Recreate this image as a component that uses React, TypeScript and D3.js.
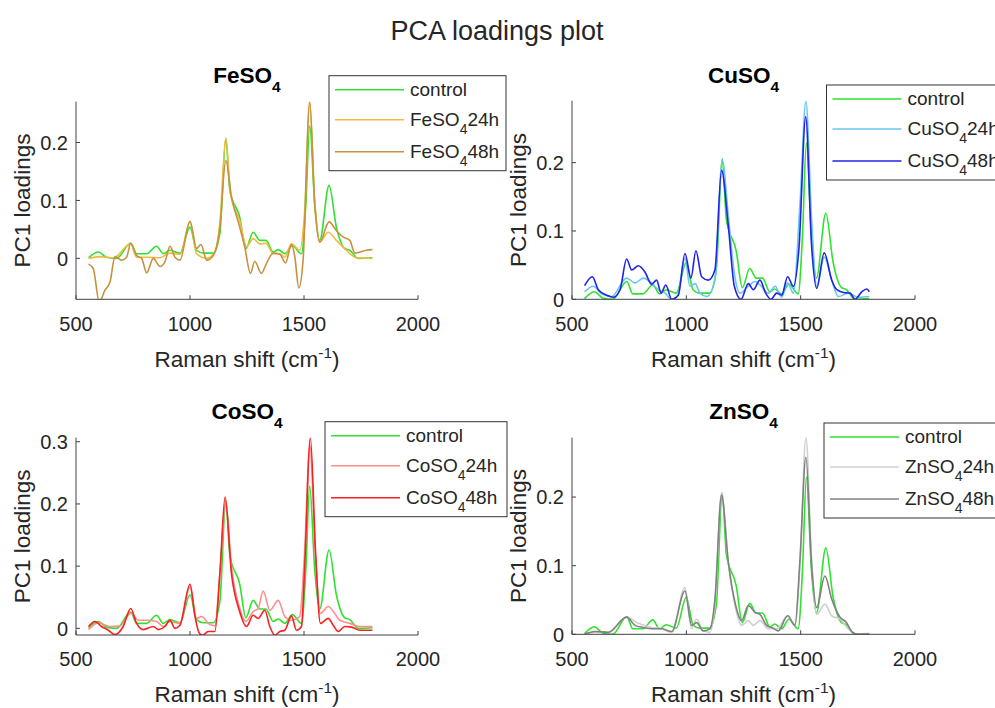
import React from "react";
import * as d3 from "d3";

type Pt = [number, number];

const FONT = "'Liberation Sans', Arial, Helvetica, sans-serif";

const xTicks = [500, 1000, 1500, 2000];
const yTicksFe = [0, 0.1, 0.2];
const yTicksCu = [0, 0.1, 0.2];
const yTicksCo = [0, 0.1, 0.2, 0.3];
const yTicksZn = [0, 0.1, 0.2];

const controlData: Pt[] = [
  [555, 0.001], [598, 0.011], [634, 0.002], [678, 0], [740, 0.026], [766, 0.008], [810, 0.008],
  [853, 0.021], [883, 0.008], [912, 0.014], [956, 0.009], [1000, 0.054], [1029, 0.014], [1058, 0.009],
  [1102, 0.009], [1131, 0.043], [1157, 0.206], [1175, 0.117], [1218, 0.071], [1245, 0.017],
  [1277, 0.045], [1306, 0.031], [1333, 0.031], [1365, 0.011], [1387, 0.015], [1416, 0.008],
  [1449, 0.022], [1489, 0.008], [1508, 0.094], [1525, 0.229], [1547, 0.094], [1569, 0.031],
  [1610, 0.126], [1642, 0.054], [1679, 0.017], [1701, 0.014], [1737, 0], [1800, 0.001],
];

const fe24Data: Pt[] = [
  [555, 0], [605, 0.003], [664, 0.001], [740, 0.025], [766, 0.002], [824, 0.002], [868, 0.001],
  [912, 0.009], [956, 0.007], [1000, 0.063], [1029, 0.008], [1073, 0], [1109, 0.011], [1131, 0.06],
  [1157, 0.208], [1178, 0.111], [1218, 0.065], [1248, 0.02], [1277, 0.034], [1306, 0.025],
  [1333, 0.026], [1365, 0.008], [1394, 0.008], [1416, 0.002], [1445, 0.025], [1481, 0.014],
  [1503, 0.083], [1525, 0.27], [1547, 0.1], [1569, 0.028], [1606, 0.045], [1642, 0.031],
  [1686, 0.014], [1730, 0.001], [1800, 0],
];

const fe48Data: Pt[] = [
  [555, -0.01], [576, -0.018], [602, -0.075], [627, -0.055], [649, -0.041], [671, 0.003],
  [700, -0.003], [722, 0.002], [740, 0.026], [766, 0.005], [788, 0], [810, -0.025], [839, 0],
  [868, -0.014], [890, -0.006], [912, 0.021], [934, 0.002], [956, -0.003], [1000, 0.064],
  [1029, 0.017], [1048, 0.024], [1073, -0.003], [1102, 0.005], [1131, 0.054], [1157, 0.169],
  [1182, 0.106], [1218, 0.054], [1240, 0.02], [1265, -0.026], [1284, -0.005], [1313, -0.026],
  [1335, -0.009], [1365, 0.009], [1394, 0.007], [1419, -0.008], [1445, 0.024], [1460, 0.002],
  [1477, -0.051], [1496, -0.003], [1525, 0.271], [1547, 0.094], [1569, 0.028], [1610, 0.063],
  [1642, 0.048], [1671, 0.037], [1701, 0.031], [1723, 0.009], [1745, 0.011], [1774, 0.014],
  [1800, 0.015],
];

const cu24Data: Pt[] = [
  [555, 0.011], [593, 0.019], [630, 0.008], [673, 0.004], [739, 0.031], [776, 0.024], [812, 0.031],
  [848, 0.024], [878, 0.014], [907, 0.009], [936, 0], [962, 0.006], [994, 0.06], [1016, 0.019],
  [1038, 0.023], [1060, 0.009], [1089, 0.004], [1125, 0.028], [1157, 0.204], [1184, 0.121],
  [1210, 0.038], [1235, 0.009], [1271, 0.019], [1300, 0.026], [1322, 0.021], [1359, 0.009],
  [1388, 0.019], [1417, 0.003], [1443, 0.024], [1468, 0.009], [1497, 0.14], [1523, 0.29],
  [1548, 0.116], [1570, 0.019], [1603, 0.062], [1636, 0.028], [1665, 0.004], [1708, 0.009],
  [1752, 0.003], [1800, 0.004],
];

const cu48Data: Pt[] = [
  [555, 0.02], [589, 0.033], [615, 0.014], [652, 0.006], [681, 0.003], [710, 0.014], [739, 0.059],
  [761, 0.043], [790, 0.049], [819, 0.04], [848, 0.022], [870, 0.028], [890, 0.009], [910, 0.021],
  [936, 0], [965, 0.006], [994, 0.067], [1020, 0.031], [1042, 0.071], [1067, 0.033], [1096, 0.028],
  [1125, 0.043], [1154, 0.189], [1184, 0.106], [1210, 0.019], [1239, 0], [1271, 0.023],
  [1293, 0.014], [1322, 0.028], [1347, 0.009], [1370, 0], [1395, 0.009], [1417, 0.006],
  [1443, 0.033], [1468, 0.019], [1493, 0.077], [1522, 0.267], [1548, 0.077], [1570, 0.016],
  [1603, 0.068], [1636, 0.028], [1658, 0.014], [1687, 0.01], [1716, 0.009], [1738, 0],
  [1767, 0.011], [1789, 0.015], [1800, 0.011],
];

const co24Data: Pt[] = [
  [555, -0.002], [598, 0.009], [649, 0.003], [693, 0.004], [740, 0.024], [774, 0.013], [810, 0.013],
  [853, 0.011], [883, 0.003], [912, 0.011], [956, 0.008], [1000, 0.067], [1029, 0.016],
  [1051, 0.019], [1080, 0.008], [1109, 0.004], [1131, 0.088], [1157, 0.203], [1182, 0.099],
  [1216, 0.035], [1245, 0.011], [1277, 0.027], [1299, 0.032], [1321, 0.06], [1350, 0.029],
  [1387, 0.045], [1416, 0.019], [1445, 0.013], [1481, 0.019], [1503, 0.126], [1525, 0.295],
  [1551, 0.11], [1572, 0.024], [1606, 0.035], [1635, 0.024], [1657, 0.013], [1701, 0.008],
  [1745, 0.003], [1800, 0.003],
];

const co48Data: Pt[] = [
  [555, 0.003], [583, 0.011], [612, 0.003], [642, -0.003], [671, -0.01], [707, 0.003], [740, 0.032],
  [766, 0.008], [795, -0.002], [839, 0.003], [861, -0.002], [890, 0.003], [912, 0.013], [934, 0],
  [956, 0.005], [1000, 0.071], [1022, 0.019], [1041, -0.008], [1055, -0.011], [1080, -0.005],
  [1109, -0.005], [1131, 0.088], [1154, 0.211], [1182, 0.088], [1216, 0.029], [1248, 0.003],
  [1277, 0.021], [1299, 0.016], [1328, 0.029], [1350, 0.003], [1372, -0.011], [1394, -0.005],
  [1416, -0.003], [1445, 0.02], [1467, -0.003], [1489, 0.003], [1503, 0.099], [1528, 0.306],
  [1551, 0.12], [1572, 0.008], [1606, 0.016], [1628, 0.005], [1650, -0.005], [1679, 0.003],
  [1708, 0.002], [1745, -0.003], [1800, -0.003],
];

const zn24Data: Pt[] = [
  [555, 0], [600, 0.003], [659, 0.003], [739, 0.025], [790, 0.016], [848, 0.01], [892, 0.008],
  [936, 0.003], [994, 0.068], [1023, 0.008], [1045, 0.022], [1074, 0.005], [1103, 0.003],
  [1125, 0.042], [1154, 0.206], [1184, 0.104], [1213, 0.042], [1242, 0.013], [1271, 0.02],
  [1293, 0.013], [1322, 0.02], [1359, 0.008], [1395, 0.008], [1443, 0.027], [1475, 0.013],
  [1497, 0.1], [1523, 0.287], [1548, 0.109], [1570, 0.029], [1606, 0.044], [1636, 0.027],
  [1672, 0.022], [1708, 0.008], [1752, 0], [1800, 0],
];

const zn48Data: Pt[] = [
  [555, 0], [600, 0.004], [659, 0.003], [739, 0.025], [776, 0.013], [812, 0.01], [848, 0.008],
  [892, 0.008], [936, 0.004], [994, 0.063], [1023, 0.013], [1045, 0.017], [1074, 0.005],
  [1103, 0.008], [1125, 0.051], [1154, 0.203], [1184, 0.104], [1213, 0.046], [1242, 0.02],
  [1271, 0.042], [1300, 0.032], [1322, 0.029], [1351, 0.013], [1380, 0.009], [1402, 0.005],
  [1443, 0.027], [1475, 0.013], [1497, 0.109], [1523, 0.258], [1548, 0.1], [1570, 0.039],
  [1606, 0.085], [1636, 0.051], [1672, 0.025], [1701, 0.017], [1723, 0.004], [1752, 0], [1800, 0],
];

const saltNames = ["FeSO", "CuSO", "CoSO", "ZnSO"];
const seriesSuffix = ["24h", "48h"];
const controlColor = "#2ee22e";
const feColors = ["#f2b944", "#c8913e"];
const cuColors = ["#6ac6ee", "#2222e8"];
const coColors = ["#ff8f8f", "#f82020"];
const znColors = ["#cfcfcf", "#808080"];

interface PanelCfg {
  salt: string;
  data: Pt[][];
  colors: string[];
  yDomain: [number, number];
  yTicks: number[];
  left: number;
  right: number;
  top: number;
  bottom: number;
  titleY: number;
  legend: { x: number; y: number; w: number };
}

const panels: PanelCfg[] = [
  {
    salt: saltNames[0], data: [fe24Data, fe48Data], colors: feColors, yDomain: [-0.0707, 0.2705],
    yTicks: yTicksFe, left: 76, right: 418, top: 101.7, bottom: 299.3, titleY: 82.7,
    legend: { x: 329, y: 75.7, w: 177 },
  },
  {
    salt: saltNames[1], data: [cu24Data, cu48Data], colors: cuColors, yDomain: [0, 0.2907],
    yTicks: yTicksCu, left: 572, right: 915, top: 100.7, bottom: 299.3, titleY: 82.7,
    legend: { x: 826.5, y: 85, w: 180 },
  },
  {
    salt: saltNames[2], data: [co24Data, co48Data], colors: coColors, yDomain: [-0.0107, 0.3065],
    yTicks: yTicksCo, left: 76, right: 418, top: 437.7, bottom: 635, titleY: 418.5,
    legend: { x: 325, y: 421.7, w: 182 },
  },
  {
    salt: saltNames[3], data: [zn24Data, zn48Data], colors: znColors, yDomain: [0, 0.2865],
    yTicks: yTicksZn, left: 572, right: 915, top: 437.7, bottom: 634.3, titleY: 418.5,
    legend: { x: 824, y: 423, w: 180 },
  },
];

const AX = "#404040";
const TXT = "#262626";

function Panel({ cfg, idx }: { cfg: PanelCfg; idx: number }) {
  const x = d3.scaleLinear().domain([500, 2000]).range([cfg.left, cfg.right]);
  const y = d3.scaleLinear().domain(cfg.yDomain).range([cfg.bottom, cfg.top]);
  const line = d3
    .line<Pt>()
    .x((d) => x(d[0]))
    .y((d) => y(d[1]))
    .curve(d3.curveMonotoneX);
  const all = [controlData, ...cfg.data];
  const cols = [controlColor, ...cfg.colors];
  const clipId = `clip-${idx}`;
  const cx = (cfg.left + cfg.right) / 2;
  const cy = (cfg.top + cfg.bottom) / 2;
  const rowOff = [14, 44, 76];
  const lg = cfg.legend;
  return (
    <g>
      <defs>
        <clipPath id={clipId}>
          <rect x={cfg.left} y={cfg.top} width={cfg.right - cfg.left} height={cfg.bottom - cfg.top} />
        </clipPath>
      </defs>
      <g clipPath={`url(#${clipId})`}>
        {all.map((s, i) => (
          <path key={i} d={line(s) || ""} fill="none" stroke={cols[i]} strokeWidth={1.6} strokeLinejoin="round" />
        ))}
      </g>
      {/* axes */}
      <line x1={cfg.left} x2={cfg.right} y1={cfg.bottom} y2={cfg.bottom} stroke={AX} strokeWidth={1} />
      <line x1={cfg.left} x2={cfg.left} y1={cfg.bottom} y2={cfg.top} stroke={AX} strokeWidth={1} />
      {xTicks.map((t) => (
        <g key={t}>
          <line x1={x(t)} x2={x(t)} y1={cfg.bottom} y2={cfg.bottom - 4} stroke={AX} strokeWidth={1} />
          <text x={x(t)} y={cfg.bottom + 31.4} textAnchor="middle" fontSize={20} fill={TXT} fontFamily={FONT}>
            {t}
          </text>
        </g>
      ))}
      {cfg.yTicks.map((t) => (
        <g key={t}>
          <line x1={cfg.left} x2={cfg.left + 4} y1={y(t)} y2={y(t)} stroke={AX} strokeWidth={1} />
          <text x={cfg.left - 8} y={y(t)} dy="0.36em" textAnchor="end" fontSize={20} fill={TXT} fontFamily={FONT}>
            {t === 0 ? "0" : d3.format(".1f")(t)}
          </text>
        </g>
      ))}
      {/* x label */}
      <text x={cx} y={cfg.bottom + 67.4} textAnchor="middle" fontSize={22.5} fill={TXT} fontFamily={FONT}>
        <tspan>Raman shift (cm</tspan>
        <tspan dy={-9} fontSize={15.5}>-1</tspan>
        <tspan dy={9}>)</tspan>
      </text>
      {/* y label */}
      <text
        transform={`translate(${cfg.left - 46},${cy}) rotate(-90)`}
        textAnchor="middle"
        fontSize={22.5}
        fill={TXT}
        fontFamily={FONT}
      >
        PC1 loadings
      </text>
      {/* title */}
      <text x={cx} y={cfg.titleY} textAnchor="middle" fontSize={22.5} fontWeight="bold" fill="#000" fontFamily={FONT}>
        <tspan>{cfg.salt}</tspan>
        <tspan dy={9} fontSize={15.5}>4</tspan>
      </text>
      {/* legend */}
      <rect x={lg.x} y={lg.y} width={lg.w} height={95} fill="#fff" stroke="#333" strokeWidth={1} />
      {all.map((_, i) => {
        const ly = lg.y + rowOff[i];
        return (
          <g key={i}>
            <line x1={lg.x + 6} x2={lg.x + 75} y1={ly} y2={ly} stroke={cols[i]} strokeWidth={1.6} />
            <text x={lg.x + 81} y={ly} dy="0.33em" fontSize={19} fill={TXT} fontFamily={FONT}>
              {i === 0 ? (
                "control"
              ) : (
                <>
                  <tspan>{cfg.salt}</tspan>
                  <tspan dy={8} fontSize={14}>4</tspan>
                  <tspan dy={-8}>{seriesSuffix[i - 1]}</tspan>
                </>
              )}
            </text>
          </g>
        );
      })}
    </g>
  );
}

export default function App() {
  return (
    <svg
      width={995}
      height={708}
      style={{ position: "absolute", left: 0, top: 0, background: "#fff" }}
      xmlns="http://www.w3.org/2000/svg"
    >
      <rect x={0} y={0} width={995} height={708} fill="#fff" />
      <text x={497} y={40} textAnchor="middle" fontSize={27} fill={TXT} fontFamily={FONT}>
        PCA loadings plot
      </text>
      {panels.map((p, i) => (
        <Panel key={i} cfg={p} idx={i} />
      ))}
    </svg>
  );
}
